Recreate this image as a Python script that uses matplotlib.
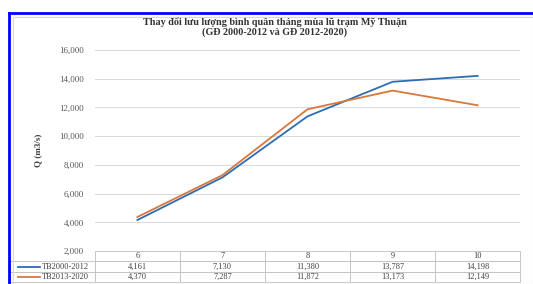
import matplotlib.pyplot as plt
from matplotlib.lines import Line2D
from matplotlib.patches import Rectangle

# monthly mean discharge at My Thuan, flood season
months = ['6', '7', '8', '9', '10']
tb_2000_2012 = [4161, 7130, 11380, 13787, 14198]
tb_2013_2020 = [4370, 7287, 11872, 13173, 12149]
series_names = ['TB2000-2012', 'TB2013-2020']
colors = ['#2E6DB4', '#D8783A']

plt.rcParams['font.family'] = ['Liberation Serif', 'DejaVu Serif']

fig = plt.figure(figsize=(5.33, 2.84), dpi=100)
ax = fig.add_axes([0.178, 0.116, 0.798, 0.708])

x = range(len(months))
ax.plot(x, tb_2000_2012, color=colors[0], lw=1.3, zorder=3)
ax.plot(x, tb_2013_2020, color=colors[1], lw=1.3, zorder=3)

ax.set_xlim(-0.5, len(months) - 0.5)
ax.set_ylim(2000, 16000)
ax.set_yticks(range(2000, 16001, 2000))
ax.set_yticklabels([f'{v:,}' for v in range(2000, 16001, 2000)], fontsize=6.5, color='#595959')
ax.set_xticks([])
ax.tick_params(axis='y', length=0, pad=8)
ax.grid(axis='y', color='#D9D9D9', lw=0.7)
ax.set_axisbelow(True)
for s in ax.spines.values():
    s.set_visible(False)

ax.set_ylabel('Q (m3/s)', fontsize=6.5, fontweight='bold', color='#404040', labelpad=12)

fig.text(0.515, 0.904, 'Thay đổi lưu lượng bình quân tháng mùa lũ trạm Mỹ Thuận\n(GĐ 2000-2012 và GĐ 2012-2020)',
         ha='center', va='center', fontsize=7.3, fontweight='bold', color='#333333', linespacing=1.0)

# data table under the axis
cells = [[''] + months]
for name, vals in zip(series_names, [tb_2000_2012, tb_2013_2020]):
    cells.append([name] + [f'{v:,}' for v in vals])
tbl = ax.table(cellText=cells, cellLoc='center', bbox=[-0.2, -0.154, 1.2, 0.154])
tbl.auto_set_font_size(False)
tbl.set_fontsize(6)
for (r, c), cell in tbl.get_celld().items():
    cell.set_edgecolor('#BFBFBF')
    cell.set_linewidth(0.6)
    cell.get_text().set_color('#404040')
    if c == 0:
        cell.get_text().set_ha('left')
        cell.PAD = 0.38
    if r == 0 and c == 0:
        cell.visible_edges = ''
for i, col in enumerate(colors):
    yy = -0.154 + 0.154 * (1.5 - i) / 3
    ax.add_line(Line2D([-0.181, -0.13], [yy, yy], transform=ax.transAxes, color=col, lw=1.3, clip_on=False))

# chart border and screenshot frame
fig.add_artist(Rectangle((0.024, 0.0), 0.976, 0.94, transform=fig.transFigure, fill=False, ec='#D9D9D9', lw=0.8))
fig.add_artist(Line2D([0.017, 0.017], [0, 0.953], transform=fig.transFigure, color='#0000FF', lw=2))
fig.add_artist(Line2D([0.017, 1], [0.953, 0.953], transform=fig.transFigure, color='#0000FF', lw=2))

fig.savefig('out.png', dpi=100)
